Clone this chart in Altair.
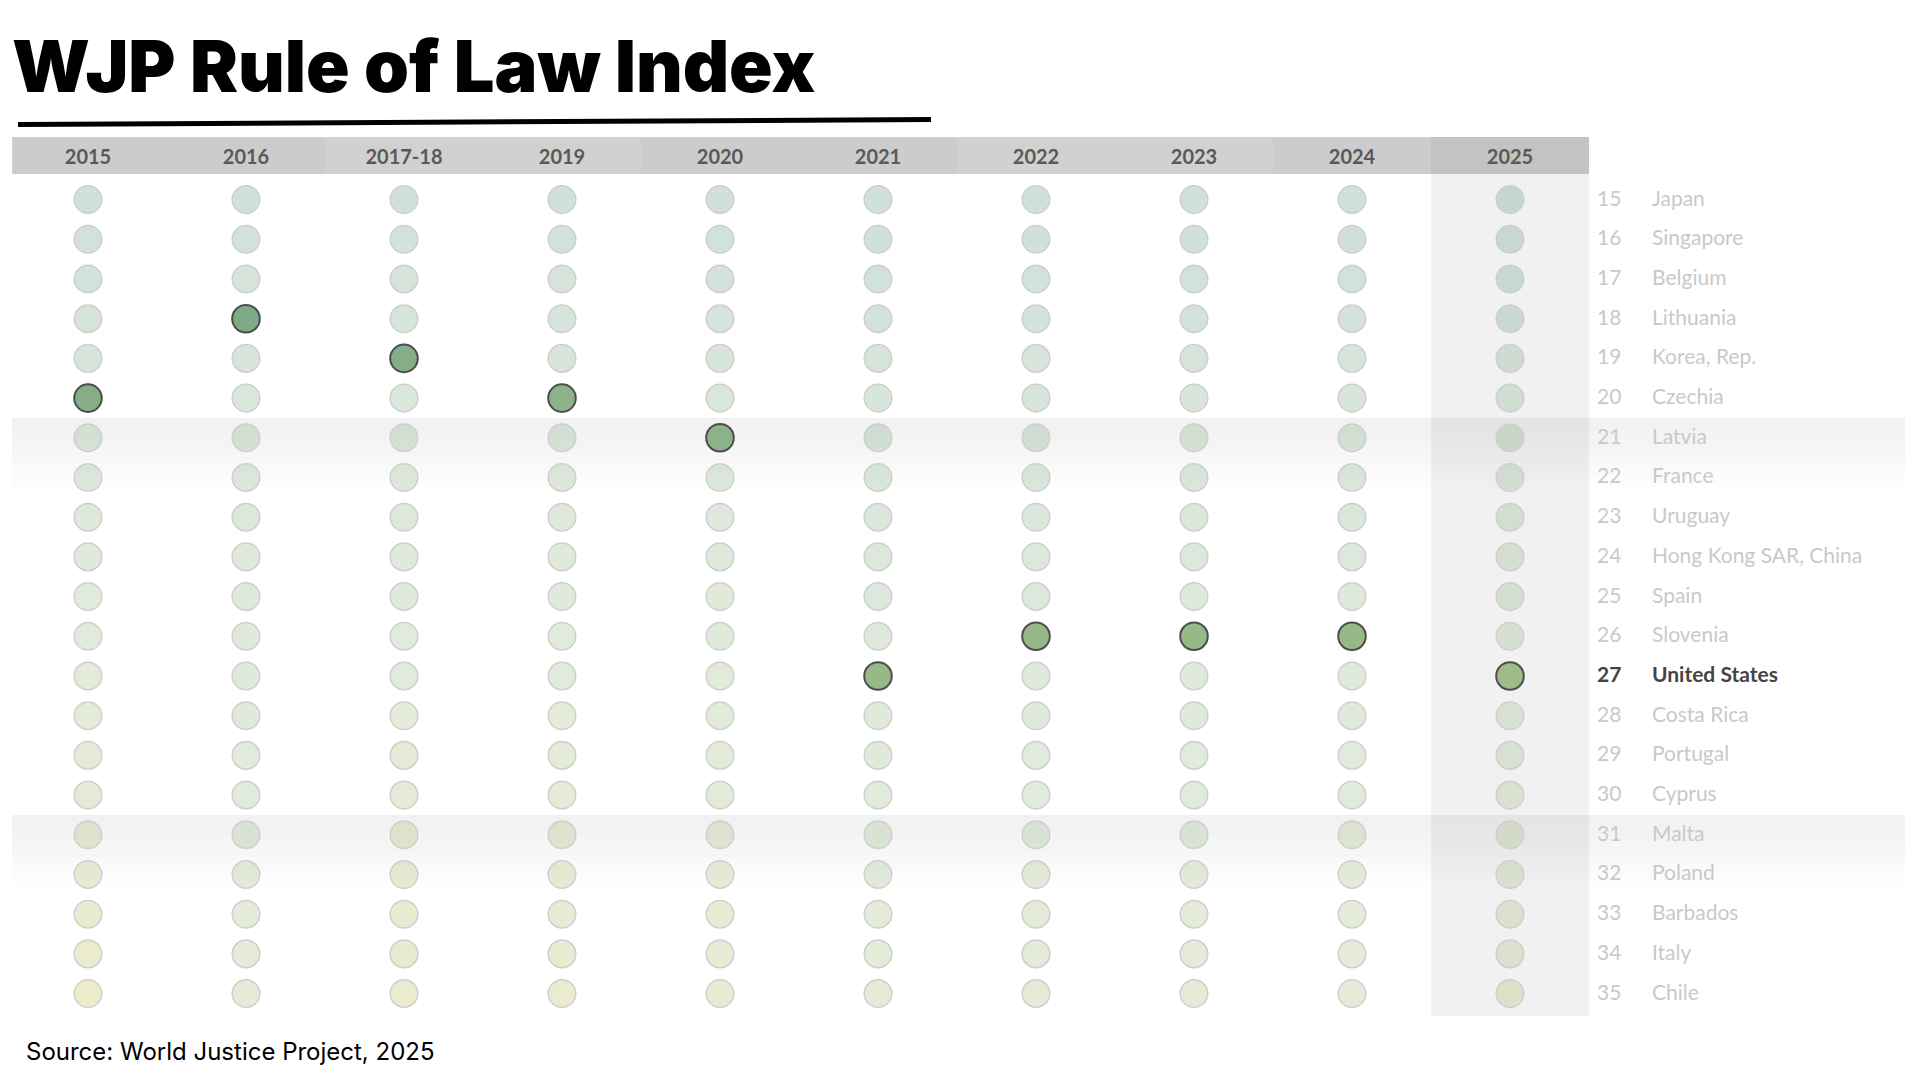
import altair as alt
import pandas as pd

# ---------------- data ----------------
years = ["2015", "2016", "2017-18", "2019", "2020", "2021", "2022", "2023", "2024", "2025"]
ranks = list(range(15, 36))
countries = ["Japan", "Singapore", "Belgium", "Lithuania", "Korea, Rep.", "Czechia", "Latvia",
             "France", "Uruguay", "Hong Kong SAR, China", "Spain", "Slovenia", "United States",
             "Costa Rica", "Portugal", "Cyprus", "Malta", "Poland", "Barbados", "Italy", "Chile"]

# estimated overall scores of the countries at ranks 15..35, per edition
s2015 = [0.79, 0.78, 0.77, 0.76, 0.75, 0.73, 0.72, 0.72, 0.71, 0.70, 0.69, 0.69, 0.68, 0.68, 0.67, 0.67, 0.66, 0.66, 0.65, 0.64, 0.63]
s2016 = [0.79, 0.78, 0.76, 0.74, 0.74, 0.73, 0.73, 0.72, 0.72, 0.71, 0.71, 0.70, 0.70, 0.70, 0.69, 0.69, 0.69, 0.68, 0.68, 0.67, 0.67]
s2017 = [0.79, 0.78, 0.76, 0.75, 0.73, 0.73, 0.72, 0.71, 0.71, 0.70, 0.70, 0.69, 0.69, 0.68, 0.67, 0.67, 0.66, 0.66, 0.65, 0.65, 0.64]
s2019 = [0.79, 0.78, 0.76, 0.75, 0.74, 0.72, 0.72, 0.71, 0.71, 0.70, 0.70, 0.69, 0.69, 0.68, 0.68, 0.67, 0.67, 0.66, 0.66, 0.65, 0.645]
s2020 = [0.79, 0.78, 0.77, 0.75, 0.74, 0.73, 0.72, 0.72, 0.71, 0.71, 0.70, 0.70, 0.69, 0.69, 0.68, 0.68, 0.67, 0.67, 0.66, 0.66, 0.65]
s2021 = [0.79, 0.79, 0.78, 0.77, 0.75, 0.74, 0.74, 0.73, 0.73, 0.72, 0.72, 0.71, 0.70, 0.70, 0.70, 0.69, 0.69, 0.69, 0.68, 0.68, 0.67]
s2022 = [0.79, 0.79, 0.78, 0.77, 0.75, 0.74, 0.74, 0.73, 0.73, 0.72, 0.72, 0.70, 0.70, 0.70, 0.69, 0.69, 0.69, 0.68, 0.68, 0.68, 0.67]
s2023 = [0.79, 0.79, 0.78, 0.77, 0.75, 0.74, 0.73, 0.73, 0.73, 0.72, 0.71, 0.70, 0.70, 0.70, 0.69, 0.69, 0.69, 0.68, 0.68, 0.67, 0.67]
s2024 = [0.79, 0.79, 0.78, 0.77, 0.75, 0.74, 0.73, 0.73, 0.73, 0.72, 0.71, 0.70, 0.70, 0.70, 0.69, 0.69, 0.68, 0.68, 0.68, 0.67, 0.67]
s2025 = [0.79, 0.78, 0.78, 0.77, 0.74, 0.73, 0.73, 0.72, 0.72, 0.71, 0.71, 0.70, 0.69, 0.69, 0.69, 0.68, 0.68, 0.68, 0.67, 0.67, 0.66]
score_lists = [s2015, s2016, s2017, s2019, s2020, s2021, s2022, s2023, s2024, s2025]

us_rank = [20, 18, 19, 20, 21, 27, 26, 26, 26, 27]
band_ranks = [21, 31]
focus_country = "United States"
title_text = "WJP Rule of Law Index"
source_text = "Source: World Justice Project, 2025"

# ---------------- tables ----------------
cell_rows = []
for i, (yr, sc) in enumerate(zip(years, score_lists)):
    for r, v in zip(ranks, sc):
        cell_rows.append({"col": i, "year": yr, "rank": r, "score": v, "us": r == us_rank[i]})
cells = pd.DataFrame(cell_rows)

header = pd.DataFrame({"col": list(range(len(years))), "year": years})
header["grp"] = ["current" if y == years[-1] else ("a" if (i // 2) % 2 == 0 else "b")
                 for i, y in enumerate(years)]

labels = pd.DataFrame({"rank": ranks, "country": countries})
labels["focus"] = labels["country"] == focus_country

bands = pd.DataFrame({"r": band_ranks})

# ---------------- scales ----------------
xs = alt.Scale(domain=[-0.5063, 11.5443], nice=False, zero=False)
ys = alt.Scale(domain=[10.174, 36.975], reverse=True, nice=False, zero=False)
cs = alt.Scale(domain=[0.62, 0.69, 0.80], range=["#cbbf48", "#9dbd88", "#5c9488"],
               interpolate="rgb", clamp=True)

X = lambda f: alt.X(f, scale=xs, axis=None)
Y = lambda f: alt.Y(f, scale=ys, axis=None)

# ---------------- layers ----------------
col_bg = alt.Chart(header).transform_filter(
    alt.datum.grp == "current"
).transform_calculate(x0="datum.col - 0.5", x1="datum.col + 0.5").mark_rect(
    color="#f1f1f1"
).encode(x=X("x0:Q"), x2="x1:Q", y=alt.value(166), y2=alt.value(1008))

grad = alt.Gradient(
    gradient="linear",
    stops=[alt.GradientStop(color="rgba(0,0,0,0.055)", offset=0),
           alt.GradientStop(color="rgba(0,0,0,0.045)", offset=0.35),
           alt.GradientStop(color="rgba(0,0,0,0)", offset=1)],
    x1=0, x2=0, y1=0, y2=1,
)
band_layer = alt.Chart(bands).transform_calculate(
    y0="datum.r - 0.5", y1="datum.r + 1.4", x0="-0.48", x1="11.5"
).mark_rect(fill=grad).encode(x=X("x0:Q"), x2="x1:Q", y=Y("y0:Q"), y2="y1:Q")

header_bg = alt.Chart(header).transform_calculate(
    x0="datum.col == 0 ? datum.col - 0.48 : datum.col - 0.5", x1="datum.col + 0.5"
).mark_rect().encode(
    x=X("x0:Q"), x2="x1:Q", y=alt.value(129), y2=alt.value(166),
    fill=alt.Fill("grp:N", scale=alt.Scale(domain=["a", "b", "current"],
                                           range=["#cccccc", "#d1d1d1", "#c3c3c3"]), legend=None),
)

header_txt = alt.Chart(header).mark_text(
    font="Lato", fontSize=20, fontWeight="bold", color="#595959", baseline="middle"
).encode(x=X("col:Q"), y=alt.value(150), text="year:N")

faded = alt.Chart(cells).transform_filter(alt.datum.us == False).mark_circle(
    size=760, opacity=1, fillOpacity=0.3, stroke="#cfcfcf", strokeWidth=1.5
).encode(x=X("col:Q"), y=Y("rank:Q"), fill=alt.Fill("score:Q", scale=cs, legend=None))

focus = alt.Chart(cells).transform_filter(alt.datum.us == True).mark_circle(
    size=760, opacity=1, fillOpacity=1, stroke="#4d4d4d", strokeWidth=2
).encode(x=X("col:Q"), y=Y("rank:Q"), fill=alt.Fill("score:Q", scale=cs, legend=None))

num_other = alt.Chart(labels).transform_filter(alt.datum.focus == False).mark_text(
    align="left", baseline="middle", font="Lato", fontSize=21, color="#c9c9c9"
).encode(x=alt.value(1589), y=Y("rank:Q"), text="rank:Q")
name_other = alt.Chart(labels).transform_filter(alt.datum.focus == False).mark_text(
    align="left", baseline="middle", font="Lato", fontSize=21, color="#c9c9c9"
).encode(x=alt.value(1644), y=Y("rank:Q"), text="country:N")
num_us = alt.Chart(labels).transform_filter(alt.datum.focus == True).mark_text(
    align="left", baseline="middle", font="Lato", fontSize=21, fontWeight="bold", color="#444444"
).encode(x=alt.value(1589), y=Y("rank:Q"), text="rank:Q")
name_us = alt.Chart(labels).transform_filter(alt.datum.focus == True).mark_text(
    align="left", baseline="middle", font="Lato", fontSize=21, fontWeight="bold", color="#444444"
).encode(x=alt.value(1644), y=Y("rank:Q"), text="country:N")

title = alt.Chart(pd.DataFrame({"t": [title_text]})).mark_text(
    align="left", baseline="alphabetic", font="Inter", fontSize=72, fontWeight=900, color="#000000"
).encode(x=alt.value(4), y=alt.value(84), text="t:N")

underline = alt.Chart(pd.DataFrame({"t": [0]})).mark_rule(
    strokeWidth=5, color="#000000", strokeCap="butt"
).encode(x=alt.value(10), x2=alt.value(923), y=alt.value(116.5), y2=alt.value(111.5))

source = alt.Chart(pd.DataFrame({"t": [source_text]})).mark_text(
    align="left", baseline="alphabetic", font="Inter", fontSize=24, color="#000000"
).encode(x=alt.value(18), y=alt.value(1052), text="t:N")

chart = alt.layer(
    col_bg, band_layer, header_bg, header_txt, faded, focus,
    num_other, name_other, num_us, name_us, title, underline, source
).resolve_scale(fill="independent").properties(
    width=1904, height=1064, padding=0,
    autosize=alt.AutoSizeParams(type="none"),
    background="#ffffff",
).configure_view(stroke=None)

chart.save("out.html", embed_options={"renderer": "svg", "actions": False})
